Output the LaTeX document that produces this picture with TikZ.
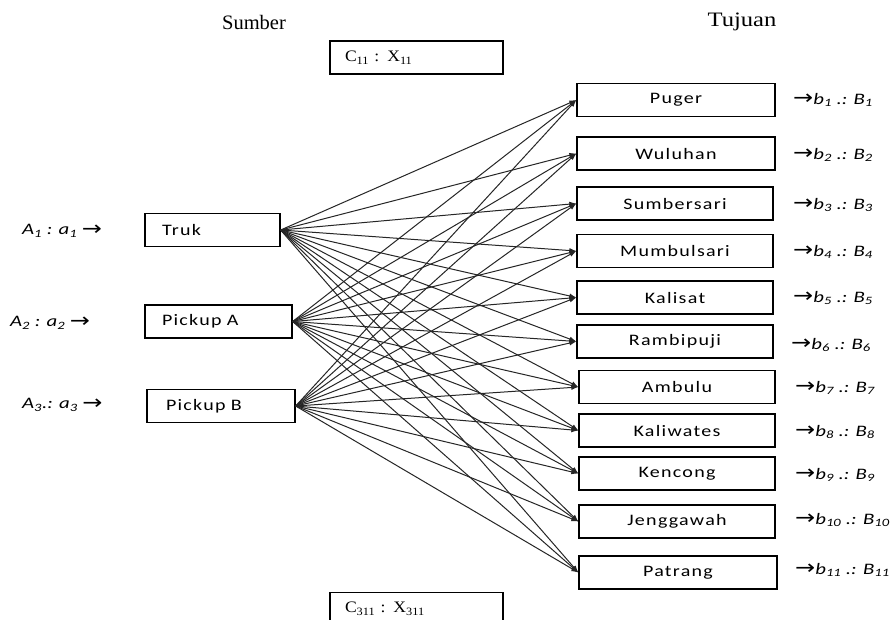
\documentclass[tikz,border=0pt]{standalone}
\usepackage{fontspec}
\setmainfont{Liberation Serif}
\newfontfamily\boxfont[LetterSpace=8,FakeStretch=1.25]{Carlito}
\newfontfamily\labfont[FakeStretch=1.3]{Carlito}
\newfontfamily\arrowfont[FakeStretch=1.2]{DejaVu Sans}
\newfontfamily\serifwide[FakeStretch=1.1]{Liberation Serif}
\newcommand{\panah}{{\arrowfont\upshape\fontsize{20}{20}\selectfont\raisebox{-0.3pt}{→}}}
\usepackage{tikz}
\usetikzlibrary{arrows.meta}
\tikzset{
  kotak/.style={draw,line width=1.3pt,fill=white,minimum height=33pt,inner sep=0pt,font=\boxfont\fontsize{16}{19}\selectfont},
  sumber/.style={kotak,align=left,inner xsep=17pt},
  biaya/.style={kotak,align=left,inner xsep=15pt,font=\serifwide\fontsize{16}{19}\selectfont},
  label/.style={font=\labfont\itshape\fontsize{16}{19}\selectfont,inner sep=0pt},
  judul/.style={font=\fontsize{20.5}{24}\selectfont},
  rute/.style={-{Latex[length=7pt,width=5pt]},line width=1pt,black!85}
}
\begin{document}
\begin{tikzpicture}[x=1pt,y=-1pt]
\clip (0,0) rectangle (894,619);
\fill[white] (0,0) rectangle (894,619);
\node[judul] (js) at (254,22) {Sumber};
\node[judul] (jt) at (742,22) {\addfontfeature{FakeStretch=1.2}Tujuan};
\node[biaya,minimum width=173pt,text width=143pt] (c1) at (416.5,57.5) {C\textsubscript{11} : X\textsubscript{11}};
\node[biaya,minimum width=173pt,text width=143pt] (c2) at (416.5,609) {C\textsubscript{311} : X\textsubscript{311}};
\node[sumber,text width=101pt] (s1) at (212.5,230) {Truk};
\node[sumber,text width=113pt] (s2) at (218.5,321.5) {Pickup A};
\node[sumber,text width=110pt,inner xsep=19pt] (s3) at (221,406) {Pickup B};
\node[label,anchor=west] (a1) at (22,231) {A\textsubscript{1} : a\textsubscript{1} \panah};
\node[label,anchor=west] (a2) at (10,323) {A\textsubscript{2} : a\textsubscript{2} \panah};
\node[label,anchor=west] (a3) at (22,405) {A\textsubscript{3}.: a\textsubscript{3} \panah};
\foreach \i/\nm/\cx/\cy/\w/\lx/\ly in {
  1/Puger/676/100/198/793/100,
  2/Wuluhan/676/153.5/198/793/155,
  3/Sumbersari/675/203.5/196/793/205,
  4/Mumbulsari/675/251/196/793/252,
  5/Kalisat/675/297.5/196/793/298,
  6/Rambipuji/675/341.5/196/791/345,
  7/Ambulu/677/387/196/795/388,
  8/Kaliwates/677/430.5/196/795/432,
  9/Kencong/677/473.5/196/795/475,
  10/Jenggawah/677/521.5/196/795/520,
  11/Patrang/678/572.5/198/795/570}{
  \node[kotak,minimum width=\w pt] (d\i) at (\cx,\cy) {\nm};
  \node[label,anchor=west] (b\i) at (\lx,\ly) {\panah b\textsubscript{\i} .: B\textsubscript{\i}};
}
\foreach \s in {1,2,3}
  \foreach \d in {1,...,11}
    \draw[rute] (s\s.east) -- (d\d.west);
\end{tikzpicture}
\end{document}
